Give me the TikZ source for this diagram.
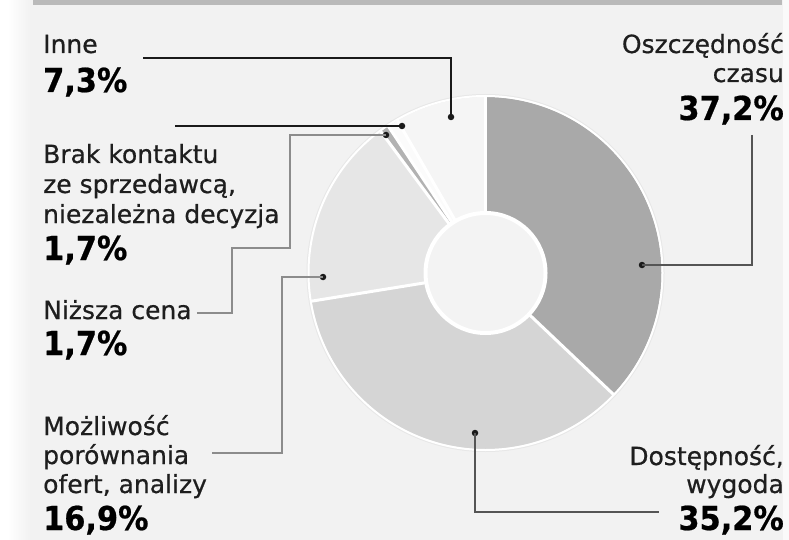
\documentclass[tikz,border=0pt]{standalone}
\usepackage{fontspec}
\setmainfont[FakeBold=0.6]{DejaVu Sans}
\newfontfamily\pctfont[FakeStretch=0.92,FakeBold=0.6]{DejaVu Sans}
\usetikzlibrary{calc}
\definecolor{bgc}{HTML}{F2F2F2}
\definecolor{barc}{HTML}{BABABA}
\definecolor{txt}{HTML}{1E1E1E}
\definecolor{cosz}{HTML}{A9A9A9}
\definecolor{cdos}{HTML}{D5D5D5}
\definecolor{cmoz}{HTML}{E6E6E6}
\definecolor{cniz}{HTML}{B2B2B2}
\definecolor{cbrak}{HTML}{FBFBFB}
\definecolor{cinne}{HTML}{F5F5F5}
\definecolor{chole}{HTML}{F3F3F3}
\definecolor{ldark}{HTML}{1A1A1A}
\definecolor{lmid}{HTML}{555555}
\definecolor{llight}{HTML}{8C8C8C}
\tikzset{
  lbl/.style={anchor=base west, inner sep=0pt, text=txt, font=\fontsize{25}{29}\selectfont},
  lblr/.style={lbl, anchor=base east},
  pct/.style={anchor=base west, inner sep=0pt, text=black, font=\pctfont\bfseries\fontsize{33}{36}\selectfont},
  pctr/.style={pct, anchor=base east},
  dotm/.style={circle, fill=#1, inner sep=0pt, minimum size=6.5pt},
  lead/.style={draw=#1, line width=2pt},
}
\newcommand\donutseg[3]{\fill[#3] (#1:59) arc[start angle=#1, end angle=#2, radius=59] -- (#2:176) arc[start angle=#2, end angle=#1, radius=176] -- cycle;}
\begin{document}
\begin{tikzpicture}[x=1pt, y=-1pt]
\useasboundingbox (0,0) rectangle (789,540);
\fill[bgc] (0,0) rectangle (789,540);
\fill[white] (0,0) rectangle (8,540);
\shade[left color=white, right color=bgc] (8,0) rectangle (30,540);
\fill[white!60!bgc] (783,0) rectangle (789,540);
\fill[barc] (33,0) rectangle (782,5);

% donut
\begin{scope}[shift={(485.5,273)}, yscale=-1]
  \fill[white!70!bgc!92!black] (0,0) circle[radius=179];
  \donutseg{90}{-43.5}{cosz}
  \donutseg{-43.5}{-170.8}{cdos}
  \donutseg{189.2}{126.5}{cmoz}
  \donutseg{126.5}{123.5}{cniz}
  \donutseg{123.5}{120}{cbrak}
  \donutseg{120}{90}{cinne}
  \foreach \a in {90,-43.5,189.2,126.5,123.5,120}
    \draw[white, line width=3pt] (\a:57) -- (\a:177);
  \draw[white, line width=2pt] (0,0) circle[radius=177];
  \fill[chole] (0,0) circle[radius=59];
  \draw[white, line width=4pt] (0,0) circle[radius=60];
\end{scope}

% left labels
\node[lbl] (inneT) at (43,53) {Inne};
\node[pct] (inneP) at (43,92) {7,3\%};
\node[lbl] (brak1) at (43,163) {Brak kontaktu};
\node[lbl] (brak2) at (43,193) {ze sprzedawcą,};
\node[lbl] (brak3) at (43,223) {niezależna decyzja};
\node[pct] (brakP) at (43,260) {1,7\%};
\node[lbl] (nizT) at (43,319) {Niższa cena};
\node[pct] (nizP) at (43,355) {1,7\%};
\node[lbl] (moz1) at (43,435) {Możliwość};
\node[lbl] (moz2) at (43,464) {porównania};
\node[lbl] (moz3) at (43,493) {ofert, analizy};
\node[pct] (mozP) at (43,530) {16,9\%};

% right labels
\node[lblr] (osz1) at (784,53) {Oszczędność};
\node[lblr] (osz2) at (784,82) {czasu};
\node[pctr] (oszP) at (784,120) {37,2\%};
\node[lblr] (dos1) at (784,465) {Dostępność,};
\node[lblr] (dos2) at (784,493) {wygoda};
\node[pctr] (dosP) at (784,530) {35,2\%};

% leader end points
\node[dotm=ldark] (inneD) at (451,117) {};
\node[dotm=ldark] (brakD) at (402,126) {};
\node[dotm=ldark] (nizD) at (386,135) {};
\node[dotm=ldark] (mozD) at (323,277) {};
\node[dotm=ldark] (dosD) at (475,433) {};
\node[dotm=ldark] (oszD) at (642,265) {};
\coordinate (inneS) at (143,58);
\coordinate (brakS) at (175,126);
\coordinate (nizS) at ($(nizT.base east)+(5,-6)$);
\coordinate (niz1) at (232,248);
\coordinate (niz2) at (290,135);
\coordinate (mozS) at (212,453);
\coordinate (mozB) at (282,277);
\coordinate (dosS) at (659,512);
\coordinate (oszS) at (752,135);

\draw[lead=ldark] (inneS) -| (inneD.center);
\draw[lead=ldark] (brakS) -- (brakD.center);
\draw[lead=llight] (nizS) -| (niz1) -| (niz2) -- (nizD.center);
\draw[lead=llight] (mozS) -| (mozB) -- (mozD.center);
\draw[lead=lmid] (dosD.center) |- (dosS);
\draw[lead=lmid] (oszS) |- (oszD.center);
\end{tikzpicture}
\end{document}
